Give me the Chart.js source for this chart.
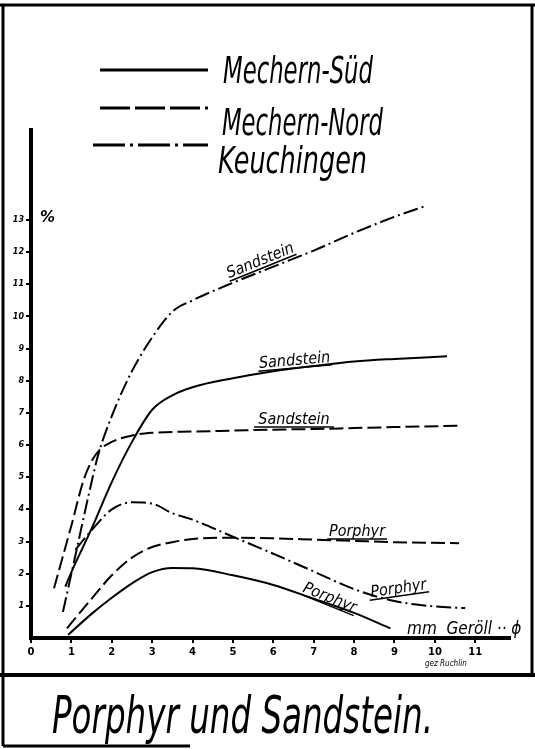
<!DOCTYPE html>
<html>
<head>
<meta charset="utf-8">
<script src="https://cdn.jsdelivr.net/npm/chart.js@4.4.1/dist/chart.umd.min.js"></script>
<style>
  body { margin: 0; background: #fff; }
  #wrap { width: 535px; height: 749px; }
</style>
</head>
<body>
<div id="wrap"><canvas id="geroellChart" width="535" height="749"></canvas></div>
<script>
// Achsen
const xTicks = [0, 1, 2, 3, 4, 5, 6, 7, 8, 9, 10, 11];
const yTicks = [1, 2, 3, 4, 5, 6, 7, 8, 9, 10, 11, 12, 13];

// Mechern-Süd (durchgezogen)
const suedSandX = [0.85, 1.0, 1.5, 2.0, 2.5, 3.0, 3.5, 4.0, 5.0, 6.0, 7.0, 8.0, 9.0, 10.3];
const suedSandY = [1.6, 2.05, 3.4, 4.85, 6.1, 7.1, 7.55, 7.8, 8.08, 8.3, 8.46, 8.6, 8.68, 8.76];
const suedPorX = [0.92, 1.5, 2.0, 2.5, 3.0, 3.5, 4.0, 5.0, 6.0, 7.0, 8.0, 8.9];
const suedPorY = [0.1, 0.75, 1.25, 1.7, 2.05, 2.18, 2.17, 1.95, 1.65, 1.22, 0.78, 0.3];

// Mechern-Nord (gestrichelt)
const nordSandX = [0.57, 1.0, 1.3, 1.5, 1.7, 2.0, 2.5, 3.0, 4.0, 5.0, 6.0, 7.0, 8.0, 9.0, 10.6];
const nordSandY = [1.55, 3.5, 4.9, 5.5, 5.85, 6.1, 6.3, 6.38, 6.42, 6.45, 6.48, 6.5, 6.53, 6.56, 6.6];
const nordPorX = [0.89, 1.5, 2.0, 2.5, 3.0, 3.5, 4.0, 5.0, 6.0, 7.0, 8.0, 9.0, 10.6];
const nordPorY = [0.3, 1.22, 1.95, 2.5, 2.83, 2.98, 3.08, 3.12, 3.1, 3.06, 3.02, 2.98, 2.95];

// Keuchingen (strichpunktiert)
const keuchSandX = [0.79, 1.0, 1.5, 1.66, 2.0, 2.5, 3.0, 3.5, 4.0, 5.0, 6.0, 7.0, 8.0, 9.0, 9.8];
const keuchSandY = [0.81, 2.0, 4.85, 5.68, 6.9, 8.3, 9.35, 10.15, 10.5, 11.05, 11.55, 12.05, 12.6, 13.1, 13.45];
const keuchPorX = [1.1, 1.5, 2.0, 2.5, 3.0, 3.5, 4.0, 5.0, 6.0, 7.0, 8.0, 9.0, 10.0, 10.75];
const keuchPorY = [2.75, 3.35, 4.0, 4.22, 4.18, 3.88, 3.68, 3.15, 2.62, 2.07, 1.52, 1.15, 0.98, 0.93];

const SOLID = [];
const DASH = [14, 5];
const DASHDOT = [15, 4, 2, 4];

const pts = (xs, ys) => xs.map((x, i) => ({ x: x, y: ys[i] }));
const line = (xs, ys, dash) => ({
    data: pts(xs, ys),
    showLine: true,
    borderColor: '#000',
    borderWidth: 2,
    borderDash: dash,
    pointRadius: 0,
    cubicInterpolationMode: 'monotone'
});

const hand = (size) => 'italic ' + size + 'px "DejaVu Sans Condensed", "DejaVu Sans", sans-serif';

// Beschriftung, Legende, Rahmen
const decor = {
    id: 'decor',
    afterDraw(chart) {
        const c = chart.ctx;
        c.save();
        c.strokeStyle = '#000';
        c.fillStyle = '#000';

        // Rahmen
        c.lineWidth = 3;
        c.beginPath();
        c.moveTo(0, 5); c.lineTo(535, 5);
        c.moveTo(3, 5); c.lineTo(3, 746);
        c.moveTo(3, 746); c.lineTo(190, 746);
        c.moveTo(532, 5); c.lineTo(532, 675);
        c.stroke();
        c.lineWidth = 4;
        c.beginPath();
        c.moveTo(0, 675); c.lineTo(535, 675);
        c.stroke();

        // Legende
        const legend = [
            { y: 70, x0: 100, dash: [], text: 'Mechern-Süd', tx: 223, ty: 83, w: 150 },
            { y: 108, x0: 100, dash: [30, 5], text: 'Mechern-Nord', tx: 222, ty: 135, w: 161 },
            { y: 145, x0: 93, dash: [32, 5, 3, 5], text: 'Keuchingen', tx: 218, ty: 173, w: 149 }
        ];
        legend.forEach(l => {
            c.lineWidth = 3;
            c.setLineDash(l.dash);
            c.beginPath();
            c.moveTo(l.x0, l.y); c.lineTo(208, l.y);
            c.stroke();
            c.setLineDash([]);
            c.font = hand(38);
            c.textAlign = 'left';
            c.textBaseline = 'alphabetic';
            c.fillText(l.text, l.tx, l.ty, l.w);
        });

        // Kurvennamen
        const labels = [
            { t: 'Sandstein', x: 262, y: 265, a: -22, w: 72 },
            { t: 'Sandstein', x: 295, y: 365, a: -5, w: 74 },
            { t: 'Sandstein', x: 294, y: 424, a: 0, w: 80 },
            { t: 'Porphyr', x: 357, y: 536, a: 0, w: 60 },
            { t: 'Porphyr', x: 399, y: 593, a: -8, w: 60 },
            { t: 'Porphyr', x: 328, y: 602, a: 22, w: 58 }
        ];
        labels.forEach(l => {
            c.save();
            c.translate(l.x, l.y);
            c.rotate(l.a * Math.PI / 180);
            c.font = hand(16);
            c.textAlign = 'center';
            c.fillText(l.t, 0, 0, l.w);
            c.lineWidth = 1.5;
            c.beginPath();
            c.moveTo(-l.w / 2, 3); c.lineTo(l.w / 2, 3);
            c.stroke();
            c.restore();
        });

        // Achsentexte
        c.font = hand(17);
        c.textAlign = 'left';
        c.fillText('mm  Geröll ·· ϕ', 407, 634, 116);
        c.font = 'italic bold 15px "DejaVu Sans", sans-serif';
        c.fillText('%', 40, 222, 17);
        c.font = hand(8);
        c.fillText('gez Ruchlin', 425, 666, 65);

        // Titel
        c.font = hand(52);
        c.fillText('Porphyr und Sandstein.', 52, 733, 381);
        c.restore();
    }
};

const ctx = document.getElementById('geroellChart').getContext('2d');
const geroellChart = new Chart(ctx, {
    type: 'scatter',
    data: {
        datasets: [
            line(keuchSandX, keuchSandY, DASHDOT),
            line(suedSandX, suedSandY, SOLID),
            line(nordSandX, nordSandY, DASH),
            line(nordPorX, nordPorY, DASH),
            line(keuchPorX, keuchPorY, DASHDOT),
            line(suedPorX, suedPorY, SOLID)
        ]
    },
    options: {
        responsive: false,
        animation: false,
        layout: { padding: { left: 0, top: 130, right: 25, bottom: 0 } },
        plugins: {
            legend: { display: false },
            tooltip: { enabled: false }
        },
        scales: {
            x: {
                type: 'linear',
                min: 0,
                max: 11.86,
                afterFit: s => { s.height = 111; },
                afterBuildTicks: s => { s.ticks = xTicks.map(v => ({ value: v })); },
                border: { color: '#000', width: 4 },
                grid: { drawOnChartArea: false, color: '#000', lineWidth: 2, tickLength: 5 },
                ticks: {
                    color: '#000',
                    padding: 3,
                    maxRotation: 0,
                    font: { family: 'DejaVu Sans', size: 10, weight: 'bold' }
                }
            },
            y: {
                min: 0,
                max: 15.8,
                afterFit: s => { s.width = 31; },
                afterBuildTicks: s => { s.ticks = yTicks.map(v => ({ value: v })); },
                border: { color: '#000', width: 4 },
                grid: { drawOnChartArea: false, color: '#000', lineWidth: 2, tickLength: 5 },
                ticks: {
                    color: '#000',
                    padding: 2,
                    font: { family: 'DejaVu Sans', size: 8, weight: 'bold', style: 'italic' }
                }
            }
        }
    },
    plugins: [decor]
});
</script>
</body>
</html>
